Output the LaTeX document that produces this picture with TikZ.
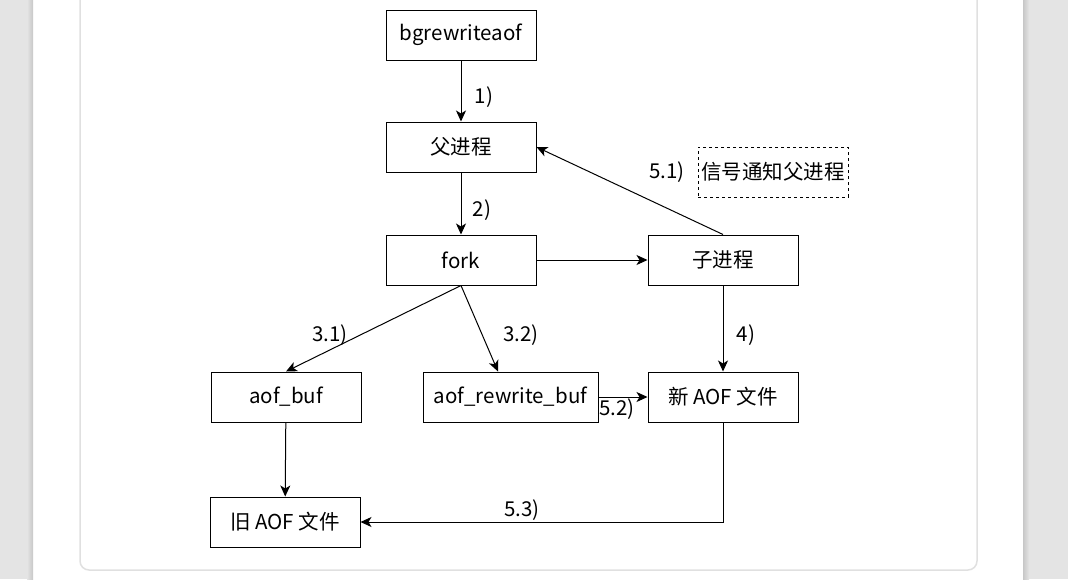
\documentclass[tikz,border=0pt]{standalone}
\usepackage{fontspec}
\setmainfont{Noto Sans CJK SC}
\usetikzlibrary{arrows.meta}
\definecolor{pagegray}{HTML}{E4E4E4}
\definecolor{cardline}{HTML}{E0E0E0}
\begin{document}
\begin{tikzpicture}[x=1pt,y=-1pt,
  box/.style={draw,line width=1pt,minimum width=150pt,minimum height=50pt,inner sep=0pt,font=\fontsize{20.5}{24}\selectfont},
  lbl/.style={font=\fontsize{20.5}{24}\selectfont,inner sep=0pt},
  arr/.style={line width=1pt,-{Stealth[length=11pt,width=10pt,inset=3pt]}}]
\useasboundingbox (0,0) rectangle (1068,579);
% page background
\fill[pagegray] (0,0) rectangle (33,579);
\fill[pagegray] (1023,0) rectangle (1068,579);
\shade[left color=pagegray,right color=black!22] (27,0) rectangle (33,579);
\shade[left color=black!22,right color=pagegray] (1023,0) rectangle (1029,579);
% card
\draw[cardline,line width=1.5pt,rounded corners=9pt] (80,-20) rectangle (977,570);
% nodes
\node[box] (bg) at (461,35) {bgrewriteaof};
\node[box] (fu) at (461,147) {父进程};
\node[box] (fork) at (461,260) {fork};
\node[box] (zi) at (723,260) {子进程};
\node[box,dashed] (sig) at (773,172) {信号通知父进程};
\node[box] (aofbuf) at (286,397) {aof\_buf};
\node[box,minimum width=175pt] (arb) at (510.5,397) {aof\_rewrite\_buf};
\node[box] (xin) at (723,397) {新 AOF 文件};
\node[box] (jiu) at (285,522) {旧 AOF 文件};
\coordinate (arbin) at ([xshift=-12.5pt]arb.north);
% edges
\draw[arr] (bg) -- (fu);
\draw[arr] (fu) -- (fork);
\draw[arr] (fork) -- (zi);
\draw[arr] (zi.north) -- (fu.east);
\draw[arr] (fork.south) -- (aofbuf.north);
\draw[arr] (fork.south) -- (arbin);
\draw[arr] (arb) -- (xin);
\draw[arr] (zi) -- (xin);
\draw[arr] (aofbuf) -- (jiu);
\draw[arr] (xin.south) |- (jiu.east);
% labels
\node[lbl] (l1) at (484,97) {1)};
\node[lbl] (l2) at (482,210) {2)};
\node[lbl] (l31) at (330,335) {3.1)};
\node[lbl] (l32) at (521,335) {3.2)};
\node[lbl] (l4) at (746,335) {4)};
\node[lbl] (l51) at (667,172) {5.1)};
\node[lbl] (l52) at (617,409) {5.2)};
\node[lbl] (l53) at (522,510) {5.3)};
\end{tikzpicture}
\end{document}
